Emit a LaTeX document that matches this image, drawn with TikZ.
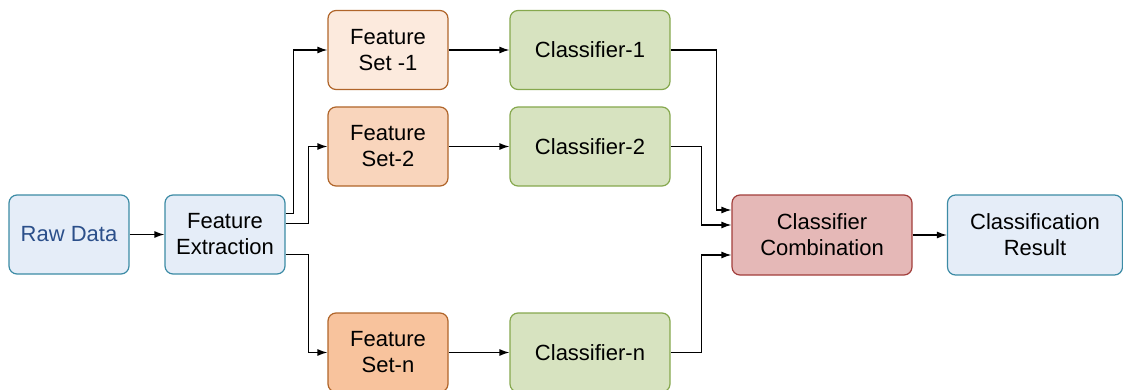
\documentclass[tikz,border=0pt]{standalone}
\usepackage{fontspec}
\setmainfont{Liberation Sans}
\usepackage{tikz}
\usetikzlibrary{calc,arrows.meta}

\definecolor{rawfill}{HTML}{E5EDF8}
\definecolor{rawdraw}{HTML}{3C8BA5}
\definecolor{rawtext}{HTML}{2B4F8A}
\definecolor{fsonefill}{HTML}{FCEADD}
\definecolor{fstwofill}{HTML}{F9D5BC}
\definecolor{fsnfill}{HTML}{F8C39D}
\definecolor{fsdraw}{HTML}{B0652A}
\definecolor{clsfill}{HTML}{D7E3C0}
\definecolor{clsdraw}{HTML}{86A84E}
\definecolor{combfill}{HTML}{E5B8B7}
\definecolor{combdraw}{HTML}{A23E3B}

\tikzset{
  box/.style={draw, rounded corners=8pt, line width=1.2pt, align=center,
    font=\fontsize{22}{26}\selectfont, inner sep=0pt},
  bluebox/.style={box, draw=rawdraw, fill=rawfill, minimum width=120pt, minimum height=79pt},
  fsbox/.style={box, draw=fsdraw, minimum width=120pt, minimum height=79pt},
  clsbox/.style={box, draw=clsdraw, fill=clsfill, minimum width=160pt, minimum height=79pt},
  arr/.style={-{Latex[length=10pt,width=7pt]}, line width=1.3pt}
}

\begin{document}
\begin{tikzpicture}[x=1pt,y=-1pt]
\useasboundingbox (0,0) rectangle (1123,390);
% input side
\node[bluebox, text=rawtext] (raw) at (69,234.5) {Raw Data};
\node[bluebox] (fext) at (225,234.5) {Feature\\Extraction};
% feature sets
\node[fsbox, fill=fsonefill] (fsone) at (388,50) {Feature\\Set -1};
\node[fsbox, fill=fstwofill] (fstwo) at (388,146.5) {Feature\\Set-2};
\node[fsbox, fill=fsnfill] (fsn) at (388,352.5) {Feature\\Set-n};
% classifiers
\node[clsbox] (clsone) at (590,50) {Classifier-1};
\node[clsbox] (clstwo) at (590,146.5) {Classifier-2};
\node[clsbox] (clsn) at (590,352.5) {Classifier-n};
% output side
\node[box, draw=combdraw, fill=combfill, minimum width=180pt, minimum height=80pt] (comb) at (822,235) {Classifier\\Combination};
\node[box, draw=rawdraw, fill=rawfill, minimum width=175pt, minimum height=80pt] (res) at (1035,235) {Classification\\Result};

\draw[arr] (raw) -- (fext);
\draw[arr] ([yshift=21pt]fext.east) -- ++(8,0) |- (fsone);
\draw[arr] ([yshift=11pt]fext.east) -- ++(23,0) |- (fstwo);
\draw[arr] ([yshift=-20pt]fext.east) -- ++(23,0) |- (fsn);
\draw[arr] (fsone) -- (clsone);
\draw[arr] (fstwo) -- (clstwo);
\draw[arr] (fsn) -- (clsn);
\draw[arr] (clsone.east) -- ++(46,0) |- ([yshift=25pt]comb.west);
\draw[arr] (clstwo.east) -- ++(31,0) |- ([yshift=10pt]comb.west);
\draw[arr] (clsn.east) -- ++(31,0) |- ([yshift=-20pt]comb.west);
\draw[arr] (comb) -- (res);
\end{tikzpicture}
\end{document}
